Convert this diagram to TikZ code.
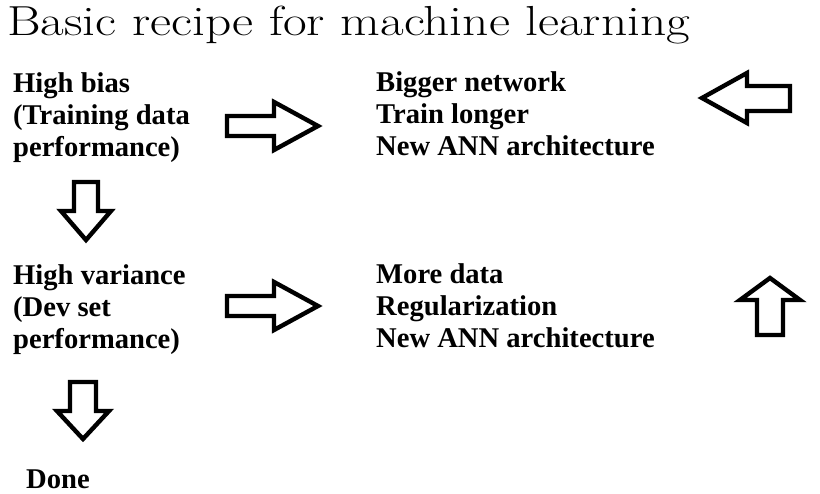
\documentclass[tikz,border=0pt]{standalone}
\usepackage{fontspec}
\newfontfamily\tnr{Liberation Serif}
\begin{document}
\begin{tikzpicture}[x=1pt,y=-1pt,
  lbl/.style={anchor=base west,inner sep=0pt,font=\tnr\bfseries\fontsize{28.6}{32}\selectfont},
  blockarrow/.style={draw=black,fill=white,line width=4.4pt,line join=miter}]
\useasboundingbox (0,0) rectangle (820,494);
\node[anchor=base west,inner sep=0pt,font=\fontsize{42}{48}\selectfont] (title) at (7,36) {\scalebox{1.225}[1]{Basic recipe for machine learning}};
\node[lbl] (bias) at (13,93) {\begin{tabular}[t]{@{}l@{}}High bias\\(Training data\\performance)\end{tabular}};
\node[lbl] (fix1) at (376,92) {\begin{tabular}[t]{@{}l@{}}Bigger network\\Train longer\\New ANN architecture\end{tabular}};
\node[lbl] (var) at (13,285) {\begin{tabular}[t]{@{}l@{}}High variance\\(Dev set\\performance)\end{tabular}};
\node[lbl] (fix2) at (376,284) {\begin{tabular}[t]{@{}l@{}}More data\\Regularization\\New ANN architecture\end{tabular}};
\node[lbl] (done) at (26,489) {Done};
% block arrows
\draw[blockarrow] (227,116) -- (274,116) -- (274,102) -- (318,126) -- (274,150) -- (274,136) -- (227,136) -- cycle;
\draw[blockarrow] (227,296) -- (274,296) -- (274,282) -- (318,306) -- (274,330) -- (274,316) -- (227,316) -- cycle;
\draw[blockarrow] (790,86) -- (747,86) -- (747,73) -- (702,98) -- (747,123) -- (747,111) -- (790,111) -- cycle;
\draw[blockarrow] (74,182) -- (98,182) -- (98,211) -- (111,211) -- (86,240) -- (61,211) -- (74,211) -- cycle;
\draw[blockarrow] (70,382) -- (96,382) -- (96,411) -- (109,411) -- (83,439) -- (57,411) -- (70,411) -- cycle;
\draw[blockarrow] (757,335) -- (783,335) -- (783,300) -- (800,300) -- (770,278) -- (740,300) -- (757,300) -- cycle;
\end{tikzpicture}
\end{document}
